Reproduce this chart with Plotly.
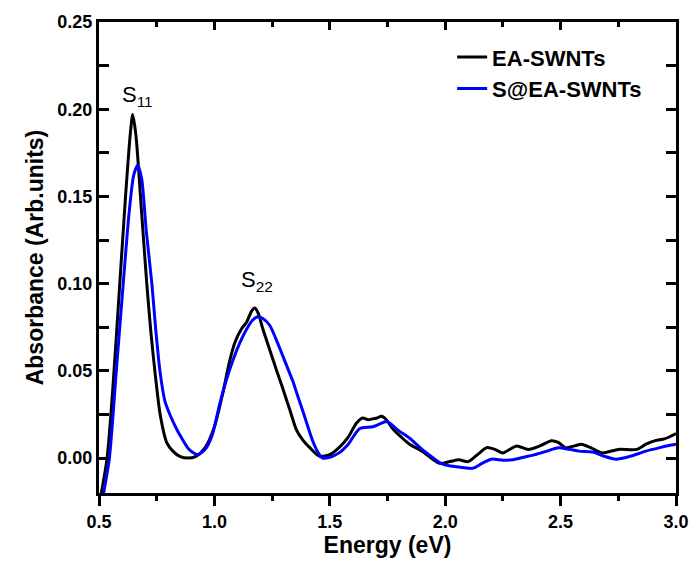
import plotly.graph_objects as go

# EA-SWNTs (black)
ea_x = [0.51, 0.535, 0.56, 0.59, 0.615, 0.635, 0.646, 0.66, 0.685, 0.707, 0.725, 0.742, 0.765, 0.794,
        0.82, 0.85, 0.885, 0.92, 0.96, 1.0, 1.036, 1.065, 1.088, 1.117, 1.14, 1.16, 1.175, 1.19, 1.21,
        1.24, 1.27, 1.296, 1.326, 1.356, 1.385, 1.413, 1.456, 1.5, 1.54, 1.58, 1.615, 1.643, 1.665,
        1.686, 1.705, 1.724, 1.745, 1.772, 1.81, 1.845, 1.9, 1.975, 2.02, 2.06, 2.10, 2.14, 2.18,
        2.215, 2.25, 2.28, 2.31, 2.36, 2.41, 2.46, 2.49, 2.52, 2.56, 2.59, 2.63, 2.68, 2.75, 2.83,
        2.87, 2.91, 2.95, 2.98, 3.0]
ea_y = [-0.02, 0.0, 0.04, 0.10, 0.15, 0.185, 0.197, 0.185, 0.14, 0.10, 0.072, 0.05, 0.025, 0.0087,
        0.004, 0.001, 0.0, 0.001, 0.006, 0.018, 0.037, 0.055, 0.066, 0.074, 0.078, 0.084, 0.086, 0.083, 0.074,
        0.062, 0.05, 0.040, 0.028, 0.016, 0.010, 0.006, 0.001, 0.002, 0.006, 0.012, 0.020, 0.023, 0.022,
        0.0225, 0.023, 0.024, 0.022, 0.017, 0.012, 0.008, 0.004, -0.003, -0.002, -0.001, -0.002, 0.002, 0.006,
        0.005, 0.003, 0.005, 0.007, 0.005, 0.007, 0.010, 0.009, 0.006, 0.007, 0.008, 0.006, 0.003, 0.005, 0.005,
        0.008, 0.010, 0.011, 0.0127, 0.014]

# S@EA-SWNTs (blue)
s_x = [0.52, 0.545, 0.575, 0.605, 0.63, 0.65, 0.668, 0.685, 0.705, 0.729, 0.745, 0.764, 0.785, 0.807,
       0.835, 0.858, 0.89, 0.928, 0.96, 0.99, 1.023, 1.05, 1.08, 1.11, 1.14, 1.165, 1.188, 1.21, 1.24,
       1.283, 1.31, 1.34, 1.36, 1.383, 1.405, 1.426, 1.45, 1.469, 1.5, 1.54, 1.58, 1.63, 1.686, 1.745,
       1.76, 1.80, 1.845, 1.9, 1.99, 2.05, 2.12, 2.16, 2.20, 2.25, 2.29, 2.34, 2.39, 2.44, 2.49, 2.54,
       2.58, 2.64, 2.69, 2.74, 2.80, 2.87, 2.93, 2.98, 3.0]
s_y = [-0.02, 0.0, 0.05, 0.10, 0.14, 0.162, 0.168, 0.16, 0.13, 0.10, 0.075, 0.05, 0.033, 0.025,
       0.017, 0.0115, 0.005, 0.002, 0.005, 0.013, 0.031, 0.044, 0.056, 0.066, 0.074, 0.079, 0.081, 0.080, 0.076,
       0.063, 0.054, 0.044, 0.036, 0.027, 0.018, 0.0098, 0.003, 0.0, 0.0005, 0.003, 0.008, 0.017, 0.018, 0.021,
       0.020, 0.0156, 0.0115, 0.005, -0.0035, -0.005, -0.0058, -0.003, -0.0006, -0.0012, -0.001, 0.0005, 0.002, 0.004, 0.006, 0.005,
       0.004, 0.0035, 0.001, -0.0006, 0.001, 0.004, 0.006, 0.0075, 0.008]

x_ticks = [0.5, 1.0, 1.5, 2.0, 2.5, 3.0]
x_minor = [0.75, 1.25, 1.75, 2.25, 2.75]
x_labels = ["0.5", "1.0", "1.5", "2.0", "2.5", "3.0"]
y_ticks = [0.00, 0.05, 0.10, 0.15, 0.20, 0.25]
y_minor = [0.025, 0.075, 0.125, 0.175, 0.225]
y_labels = ["0.00", "0.05", "0.10", "0.15", "0.20", "0.25"]

X_RANGE = [0.5, 3.0]
Y_RANGE = [-0.02, 0.25]

FONT = "Liberation Sans"

fig = go.Figure()
fig.add_trace(go.Scatter(x=ea_x, y=ea_y, mode="lines", name="EA-SWNTs",
                         line=dict(color="black", width=3, shape="spline", smoothing=0.7)))
fig.add_trace(go.Scatter(x=s_x, y=s_y, mode="lines", name="S@EA-SWNTs",
                         line=dict(color="#0000ff", width=3, shape="spline", smoothing=0.7)))
# empty helper trace so the top tick axis is drawn
fig.add_trace(go.Scatter(x=X_RANGE, y=[None, None], xaxis="x2", mode="lines",
                         showlegend=False, hoverinfo="skip"))

fig.add_annotation(x=0.667, y=0.2076, text="S<sub>11</sub>", showarrow=False,
                   font=dict(family=FONT, size=22, color="black"))
fig.add_annotation(x=1.185, y=0.1015, text="S<sub>22</sub>", showarrow=False,
                   font=dict(family=FONT, size=22, color="black"))

fig.update_layout(
    width=693, height=563,
    margin=dict(l=99, r=17, t=22, b=70),
    plot_bgcolor="white", paper_bgcolor="white",
    showlegend=True,
    legend=dict(x=0.612, y=0.97, xanchor="left", yanchor="top",
                font=dict(family=FONT, size=22, color="black", weight="bold"),
                bgcolor="rgba(0,0,0,0)", tracegroupgap=0),
    xaxis=dict(range=X_RANGE, tickmode="array", tickvals=x_ticks, ticktext=x_labels,
               automargin=False,
               showline=True, linewidth=3, linecolor="black", mirror=True,
               ticks="outside", ticklen=10, tickwidth=3, tickcolor="black",
               minor=dict(tickvals=x_minor, ticks="outside", ticklen=5,
                          tickwidth=3, tickcolor="black", showgrid=False),
               showgrid=False, zeroline=False,
               tickfont=dict(family=FONT, size=18, color="black", weight="bold"),
               title=dict(text="Energy (eV)", standoff=4,
                          font=dict(family=FONT, size=23, color="black", weight="bold"))),
    xaxis2=dict(range=X_RANGE, overlaying="x", side="top", anchor="y",
                tickmode="array", tickvals=x_ticks, showticklabels=False,
                ticks="inside", ticklen=8, tickwidth=3, tickcolor="black",
                minor=dict(tickvals=x_minor, ticks="inside", ticklen=5,
                           tickwidth=3, tickcolor="black", showgrid=False),
                showgrid=False, zeroline=False, showline=False, automargin=False),
    yaxis=dict(range=Y_RANGE, tickmode="array", tickvals=y_ticks, ticktext=y_labels,
               automargin=False,
               showline=True, linewidth=3, linecolor="black", mirror="allticks",
               ticks="inside", ticklen=10, tickwidth=3, tickcolor="black",
               minor=dict(tickvals=y_minor, ticks="inside", ticklen=5,
                          tickwidth=3, tickcolor="black", showgrid=False),
               showgrid=False, zeroline=False,
               tickfont=dict(family=FONT, size=18, color="black", weight="bold"),
               title=dict(text="Absorbance (Arb.units)", standoff=8,
                          font=dict(family=FONT, size=23, color="black", weight="bold"))),
)

fig.write_html("out.html")
